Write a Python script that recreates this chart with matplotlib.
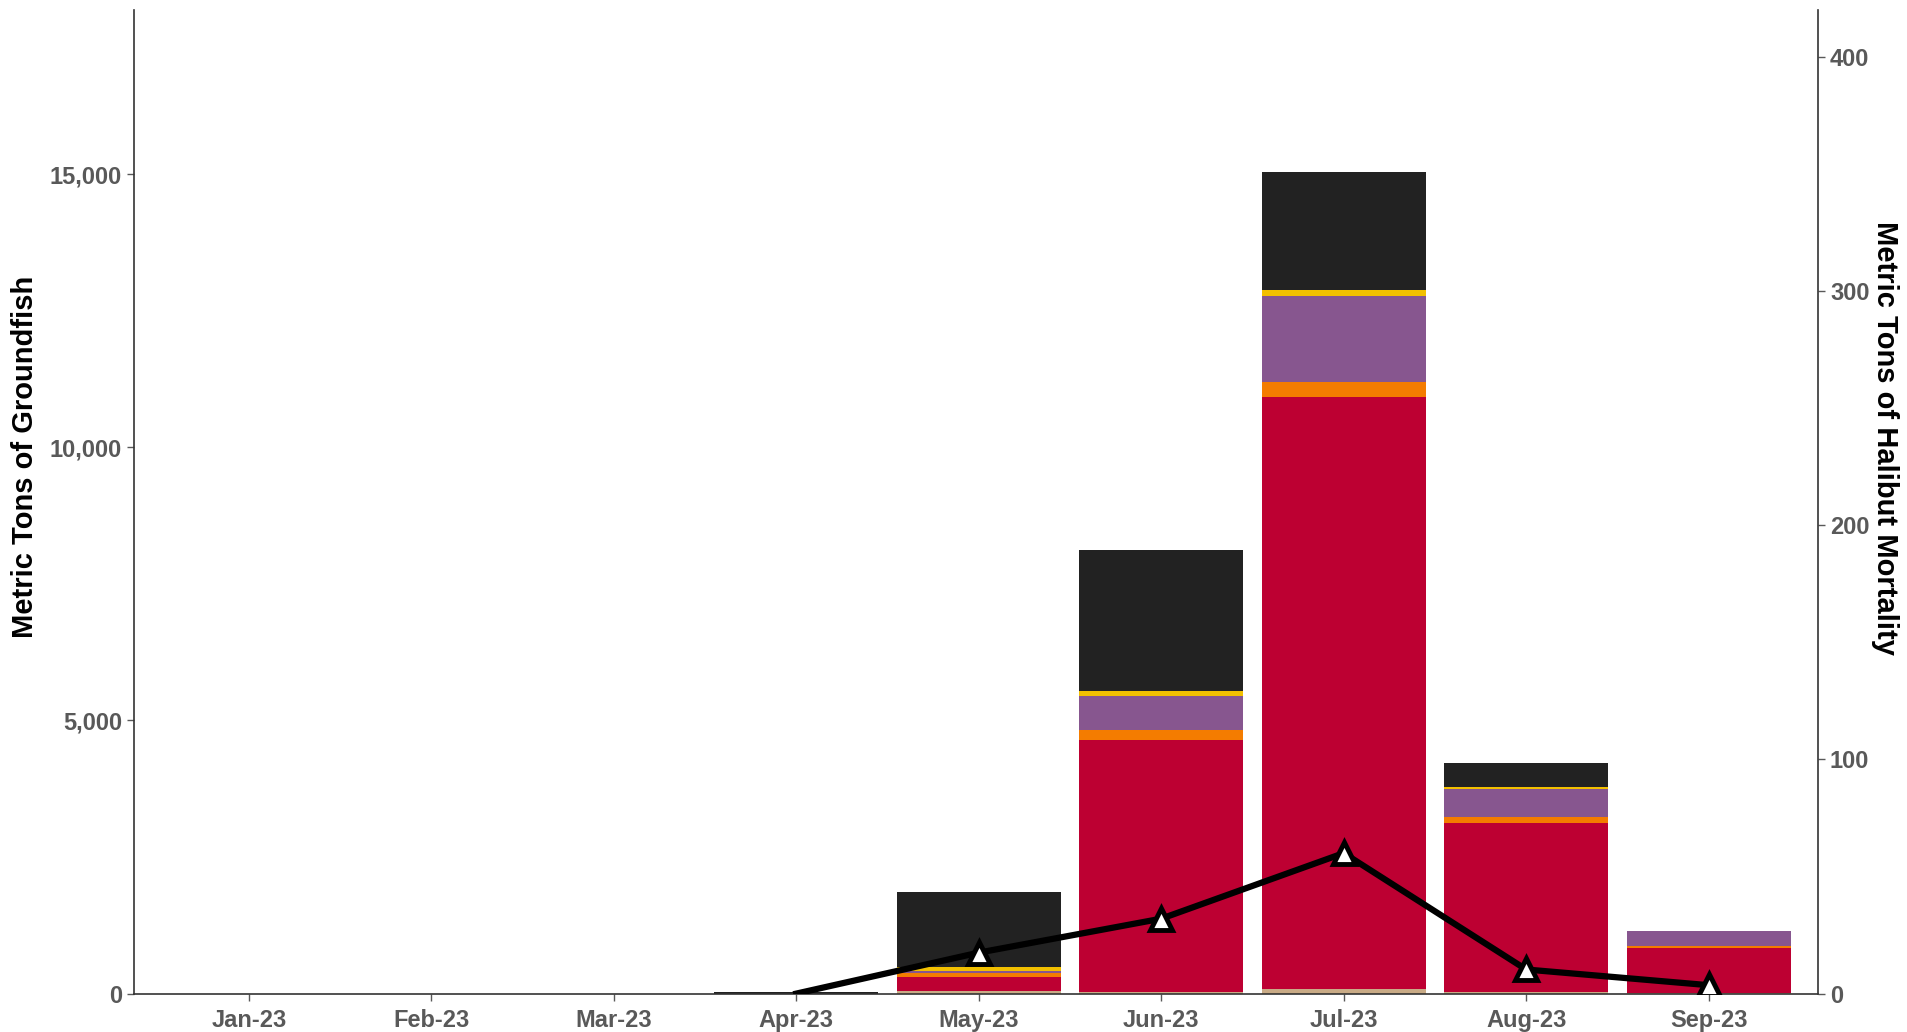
import matplotlib.pyplot as plt
import numpy as np

# months shown on the x axis
months = ['Jan-23', 'Feb-23', 'Mar-23', 'Apr-23', 'May-23', 'Jun-23', 'Jul-23', 'Aug-23', 'Sep-23']

# groundfish catch by layer (metric tons), bottom to top
tan_mt = [0, 0, 0, 0, 50, 25, 80, 30, 10]
red_mt = [0, 0, 0, 0, 254, 4625, 10850, 3096, 830]
orange_mt = [0, 0, 0, 0, 69, 182, 270, 98, 24]
purple_mt = [0, 0, 0, 0, 49, 622, 1565, 524, 290]
yellow_mt = [0, 0, 0, 0, 62, 91, 120, 42, 0]
black_mt = [0, 0, 0, 25, 1380, 2576, 2150, 426, 0]

# halibut mortality (metric tons), starts at Apr-23
halibut_months = ['Apr-23', 'May-23', 'Jun-23', 'Jul-23', 'Aug-23', 'Sep-23']
halibut_mt = [0, 17.5, 32, 60, 10.3, 3.6]

layers = [tan_mt, red_mt, orange_mt, purple_mt, yellow_mt, black_mt]
colors = ['#C9AB86', '#BD0032', '#F47C00', '#87568F', '#F2C000', '#222222']

plt.rcParams['font.family'] = ['Liberation Sans', 'DejaVu Sans']
tick_color = '#595959'

fig = plt.figure(figsize=(19.07, 10.32), dpi=100)
ax = fig.add_axes([0.0702, 0.0372, 0.8832, 0.9528])
x = np.arange(len(months))

bottom = np.zeros(len(months))
for vals, c in zip(layers, colors):
    ax.bar(x, vals, width=0.9, bottom=bottom, color=c, linewidth=0)
    bottom += np.array(vals)

ax.set_xlim(-0.63, 8.6)
ax.set_ylim(0, 18000)
ax.set_yticks([0, 5000, 10000, 15000])
ax.set_yticklabels(['0', '5,000', '10,000', '15,000'])
ax.set_xticks(x)
ax.set_xticklabels(months)
ax.set_ylabel('Metric Tons of Groundfish', fontsize=21, fontweight='bold')
ax.yaxis.set_label_coords(-0.0565, 0.546)
ax.spines['top'].set_visible(False)
ax.spines['right'].set_visible(False)
for s in ['left', 'bottom']:
    ax.spines[s].set_color('#333333')
    ax.spines[s].set_linewidth(1.2)
ax.tick_params(axis='both', colors=tick_color, labelsize=17, length=5, width=1)
ax.tick_params(axis='x', pad=6)
for lab in ax.get_xticklabels() + ax.get_yticklabels():
    lab.set_fontweight('bold')

ax2 = ax.twinx()
hx = [months.index(m) for m in halibut_months]
ax2.plot(hx, halibut_mt, color='black', linewidth=4.5, zorder=3)
ax2.plot(hx[1:], halibut_mt[1:], linestyle='none', marker='^', markersize=16,
         markerfacecolor='white', markeredgecolor='black', markeredgewidth=3.5, zorder=4)
ax2.set_ylim(0, 420)
ax2.set_yticks([0, 100, 200, 300, 400])
ax2.set_ylabel('Metric Tons of Halibut Mortality', fontsize=21, fontweight='bold',
               rotation=270)
ax2.yaxis.set_label_coords(1.048, 0.565)
ax2.spines['top'].set_visible(False)
ax2.spines['left'].set_visible(False)
ax2.spines['bottom'].set_visible(False)
ax2.spines['right'].set_color('#333333')
ax2.spines['right'].set_linewidth(1.2)
ax2.tick_params(axis='y', colors=tick_color, labelsize=17, length=5, width=1)
for lab in ax2.get_yticklabels():
    lab.set_fontweight('bold')

fig.savefig('out.png', dpi=100)
